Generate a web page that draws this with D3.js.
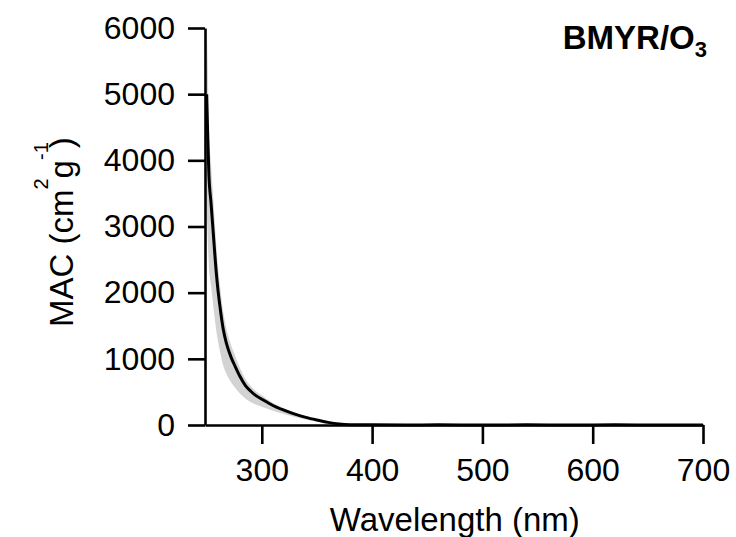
<!DOCTYPE html>
<html>
<head>
<meta charset="utf-8">
<script src="https://cdn.jsdelivr.net/npm/d3@7"></script>
<style>
  body { margin: 0; background: #fff; }
  svg { font-family: "Liberation Sans", Arial, sans-serif; }
</style>
</head>
<body>
<svg id="chart"></svg>
<script>
// wavelength (nm) and mass absorption coefficient (cm2 g-1)
var wavelength = [250, 251, 252, 254, 256, 258, 260, 262, 265, 268, 272, 276, 280, 285, 290, 295, 300,
    310, 320, 330, 340, 350, 360, 370, 380, 400, 430, 460, 500, 540, 580, 620, 660, 700];
var macMean = [5000, 4350, 3800, 3350, 2900, 2450, 2080, 1800, 1450, 1230, 1030, 880, 740, 600, 510, 440, 390,
    295, 225, 165, 115, 75, 40, 15, 5, 2, 1, 2, 1, 2, 1, 2, 1, 1];
var macLower = [3300, 2800, 2400, 2100, 1800, 1520, 1290, 1120, 900, 770, 650, 560, 480, 400, 345, 305, 275,
    215, 165, 122, 85, 52, 24, 8, 2, 0, 0, 0, 0, 0, 0, 0, 0, 0];
var macUpper = [6100, 5400, 4600, 3950, 3420, 2900, 2450, 2120, 1710, 1450, 1215, 1040, 870, 700, 590, 505, 448,
    335, 255, 186, 130, 86, 48, 20, 8, 4, 3, 4, 3, 4, 3, 4, 3, 3];
var xTicks = [300, 400, 500, 600, 700];
var yTicks = [0, 1000, 2000, 3000, 4000, 5000, 6000];

var width = 736, height = 537;
var margin = { top: 28, right: 33, bottom: 112, left: 205 };
var w = width - margin.left - margin.right;
var h = height - margin.top - margin.bottom;

var svg = d3.select("#chart")
    .attr("width", width)
    .attr("height", height);
var g = svg.append("g")
    .attr("transform", "translate(" + margin.left + "," + margin.top + ")");

var xscale = d3.scaleLinear().domain([248.5, 700]).range([0, w]);
var yscale = d3.scaleLinear().domain([0, 6000]).range([h, 0]);

var data = wavelength.map(function (d, i) {
    return { x: d, m: macMean[i], lo: macLower[i], hi: macUpper[i] };
});

// uncertainty band
g.append("path")
    .datum(data)
    .attr("d", d3.area()
        .x(function (d) { return xscale(d.x); })
        .y0(function (d) { return yscale(d.lo); })
        .y1(function (d) { return yscale(d.hi); })
        .curve(d3.curveMonotoneX))
    .style("fill", "#d3d3d3")
    .style("stroke", "none");

// mean line
g.append("path")
    .datum(data)
    .attr("d", d3.line()
        .x(function (d) { return xscale(d.x); })
        .y(function (d) { return yscale(d.m); })
        .curve(d3.curveMonotoneX))
    .style("fill", "none")
    .style("stroke", "#000")
    .style("stroke-width", 3);

//X-axis:
var xaxis = g.append("g")
    .attr("transform", "translate(0," + h + ")")
    .call(d3.axisBottom(xscale).tickValues(xTicks).tickFormat(d3.format("d"))
        .tickSize(19).tickSizeOuter(0).tickPadding(14));
//Y-axis:
var yaxis = g.append("g")
    .call(d3.axisLeft(yscale).tickValues(yTicks).tickFormat(d3.format("d"))
        .tickSize(17).tickSizeOuter(0).tickPadding(13));

[xaxis, yaxis].forEach(function (ax) {
    ax.selectAll("path, line")
        .style("stroke", "#000")
        .style("stroke-width", 2.6);
    ax.selectAll("text")
        .style("font-family", "'Liberation Sans', Arial, sans-serif")
        .style("font-size", "32px")
        .style("fill", "#000");
});

// axis titles
svg.append("text")
    .attr("x", margin.left + xscale(475))
    .attr("y", 531)
    .attr("text-anchor", "middle")
    .style("font-size", "33px")
    .text("Wavelength (nm)");

var ylab = svg.append("text")
    .attr("transform", "translate(73,327) rotate(-90)")
    .attr("text-anchor", "start")
    .style("font-size", "33px");
ylab.append("tspan").text("MAC (cm");
ylab.append("tspan").attr("dy", -25).style("font-size", "20px").text("2");
ylab.append("tspan").attr("dy", 25).text("g");
ylab.append("tspan").attr("dy", -25).style("font-size", "20px").text("-1");
ylab.append("tspan").attr("dy", 25).attr("dx", -6).text(")");

// panel label
var title = svg.append("text")
    .attr("x", 707)
    .attr("y", 49)
    .attr("text-anchor", "end")
    .style("font-size", "33px")
    .style("font-weight", "bold");
title.append("tspan").text("BMYR/O");
title.append("tspan").attr("dy", 8).style("font-size", "22px").text("3");
</script>
</body>
</html>
